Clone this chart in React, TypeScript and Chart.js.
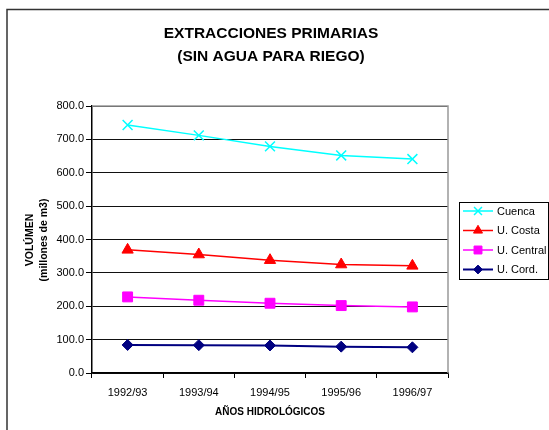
import React, { useEffect, useRef } from "react";
import { Chart, registerables } from "chart.js";

Chart.register(...registerables);

const categories = ["1992/93", "1993/94", "1994/95", "1995/96", "1996/97"];
const cuenca = [743, 712, 679, 652, 641];
const uCosta = [369, 355, 338, 325, 321];
const uCentral = [228, 218, 209, 202, 198];
const uCord = [84, 83.5, 82.5, 79, 77];
const yTicks = [0, 100, 200, 300, 400, 500, 600, 700, 800];
const titleLines = ["EXTRACCIONES PRIMARIAS", "(SIN AGUA PARA RIEGO)"];
const yTitleLines = ["VOLÚMEN", "(millones de m3)"];
const xTitle = "AÑOS HIDROLÓGICOS";

const FONT = "'Liberation Sans', Arial, sans-serif";

function drawPt(ctx: CanvasRenderingContext2D, style: string, r: number, x: number, y: number) {
  ctx.beginPath();
  if (style === "crossRot") {
    const o = Math.SQRT1_2 * r;
    ctx.moveTo(x - o, y - o);
    ctx.lineTo(x + o, y + o);
    ctx.moveTo(x - o, y + o);
    ctx.lineTo(x + o, y - o);
    ctx.stroke();
  } else if (style === "triangle") {
    ctx.moveTo(x, y - r);
    ctx.lineTo(x + r * 0.866, y + r * 0.5);
    ctx.lineTo(x - r * 0.866, y + r * 0.5);
    ctx.closePath();
    ctx.fill();
    ctx.stroke();
  } else if (style === "rect") {
    const s = Math.SQRT1_2 * r;
    ctx.rect(x - s, y - s, 2 * s, 2 * s);
    ctx.fill();
    ctx.stroke();
  } else {
    ctx.moveTo(x, y - r);
    ctx.lineTo(x + r, y);
    ctx.lineTo(x, y + r);
    ctx.lineTo(x - r, y);
    ctx.closePath();
    ctx.fill();
    ctx.stroke();
  }
}

const decorPlugin = {
  id: "decor",
  beforeDraw(chart: any) {
    const ctx = chart.ctx;
    ctx.save();
    ctx.fillStyle = "#fff";
    ctx.fillRect(0, 0, chart.width, chart.height);
    ctx.restore();
  },
  afterDraw(chart: any) {
    const ctx = chart.ctx;
    const a = chart.chartArea;
    ctx.save();
    // outer frame
    ctx.strokeStyle = "#333";
    ctx.lineWidth = 1.5;
    ctx.beginPath();
    ctx.moveTo(7, chart.height + 2);
    ctx.lineTo(7, 9.5);
    ctx.lineTo(chart.width + 2, 9.5);
    ctx.stroke();
    // plot area top/right border
    ctx.strokeStyle = "#999";
    ctx.lineWidth = 1.5;
    ctx.beginPath();
    ctx.moveTo(a.left, a.top);
    ctx.lineTo(a.right, a.top);
    ctx.lineTo(a.right, a.bottom);
    ctx.stroke();
    // main title
    ctx.fillStyle = "#000";
    ctx.font = `bold 15.5px ${FONT}`;
    ctx.textAlign = "center";
    ctx.textBaseline = "middle";
    ctx.fillText(titleLines[0], 271, 34);
    ctx.fillText(titleLines[1], 271, 57);
    // x title
    ctx.font = `bold 10px ${FONT}`;
    ctx.fillText(xTitle, 270, 412);
    // y title
    ctx.save();
    ctx.translate(30, 240);
    ctx.rotate(-Math.PI / 2);
    ctx.font = `bold 10.5px ${FONT}`;
    ctx.fillText(yTitleLines[0], 0, 0);
    ctx.restore();
    ctx.save();
    ctx.translate(44, 240);
    ctx.rotate(-Math.PI / 2);
    ctx.font = `bold 10.5px ${FONT}`;
    ctx.fillText(yTitleLines[1], 0, 0);
    ctx.restore();
    // legend
    const lx = 459, ly = 202, lw = 89, lh = 77;
    ctx.fillStyle = "#fff";
    ctx.fillRect(lx, ly, lw, lh);
    ctx.strokeStyle = "#000";
    ctx.lineWidth = 1;
    ctx.strokeRect(lx + 0.5, ly + 0.5, lw, lh);
    const rows = [211, 230.5, 250, 269.5];
    chart.data.datasets.forEach((ds: any, i: number) => {
      const y = rows[i];
      ctx.strokeStyle = ds.borderColor;
      ctx.lineWidth = ds.borderWidth;
      ctx.beginPath();
      ctx.moveTo(463, y);
      ctx.lineTo(493, y);
      ctx.stroke();
      ctx.fillStyle = ds.pointBackgroundColor;
      ctx.strokeStyle = ds.pointBorderColor;
      ctx.lineWidth = ds.pointBorderWidth;
      drawPt(ctx, ds.pointStyle, ds.pointRadius * 0.8, 478, y);
      ctx.fillStyle = "#000";
      ctx.font = `11px ${FONT}`;
      ctx.textAlign = "left";
      ctx.textBaseline = "middle";
      ctx.fillText(ds.label, 497, y + 0.5);
    });
    ctx.restore();
  },
};

export default function App() {
  const ref = useRef<HTMLCanvasElement>(null);
  useEffect(() => {
    if (!ref.current) return;
    const mk = (label: string, data: number[], color: string, style: string, radius: number, lw: number) => ({
      label,
      data,
      borderColor: color,
      backgroundColor: color,
      pointBackgroundColor: color,
      pointBorderColor: color,
      pointBorderWidth: style === "crossRot" ? 1.5 : 1,
      pointStyle: style,
      pointRadius: radius,
      borderWidth: lw,
      tension: 0,
      fill: false,
    });
    const chart = new Chart(ref.current, {
      type: "line",
      data: {
        labels: categories,
        datasets: [
          mk("Cuenca", cuenca, "#00FFFF", "crossRot", 7, 1.5),
          mk("U. Costa", uCosta, "#FF0000", "triangle", 6.5, 1.5),
          mk("U. Central", uCentral, "#FF00FF", "rect", 7, 1.5),
          mk("U. Cord.", uCord, "#000080", "rectRot", 5.5, 2),
        ] as any,
      },
      options: {
        responsive: false,
        animation: false,
        devicePixelRatio: 1,
        layout: { padding: { left: 0, top: 106, right: 101, bottom: 0 } },
        plugins: {
          legend: { display: false },
          title: { display: false },
          tooltip: { enabled: false },
        },
        scales: {
          x: {
            offset: true,
            afterFit: (s: any) => {
              s.height = 57;
            },
            grid: {
              offset: true,
              drawOnChartArea: false,
              drawTicks: true,
              tickLength: 5,
              color: "#000",
            },
            border: { color: "#000", width: 1.5 },
            ticks: {
              color: "#000",
              padding: 8,
              maxRotation: 0,
              font: { family: FONT, size: 11 },
            },
          },
          y: {
            min: 0,
            max: 800,
            afterFit: (s: any) => {
              s.width = 92;
            },
            afterBuildTicks: (s: any) => {
              s.ticks = yTicks.map((v) => ({ value: v }));
            },
            grid: {
              color: "#111",
              lineWidth: 1,
              drawTicks: true,
              tickLength: 6,
              tickColor: "#000",
            },
            border: { color: "#000", width: 1.5 },
            ticks: {
              color: "#000",
              padding: 2,
              font: { family: FONT, size: 11 },
              callback: (v: any) => Number(v).toFixed(1),
            },
          },
        },
      },
      plugins: [decorPlugin],
    });
    return () => chart.destroy();
  }, []);
  return (
    <div style={{ position: "absolute", left: 0, top: 0, width: 549, height: 430 }}>
      <canvas ref={ref} width={549} height={430} style={{ width: 549, height: 430, display: "block" }} />
    </div>
  );
}
